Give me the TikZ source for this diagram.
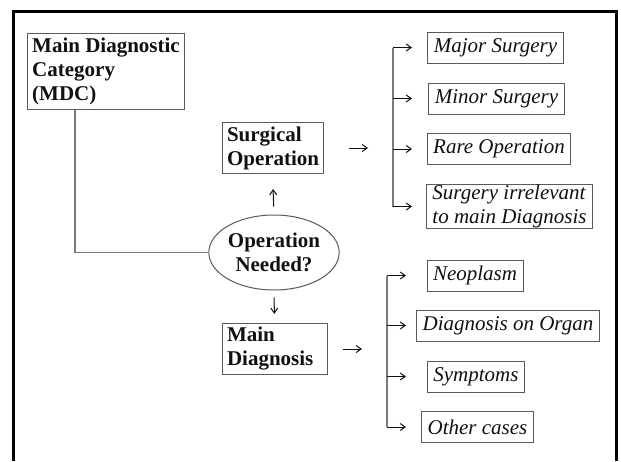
\documentclass[tikz,border=0pt]{standalone}
\usepackage{fontspec}
\setmainfont{Liberation Serif}
\usetikzlibrary{positioning,arrows.meta,shapes.geometric}
\definecolor{edge}{HTML}{5A5A5A}
\definecolor{wire}{HTML}{7A7A7A}
\definecolor{ink}{HTML}{111111}
\newcommand{\fs}{\fontsize{10.5}{12}\selectfont}
\tikzset{
  cat/.style ={draw=edge, line width=.5pt, fill=white, align=left, inner xsep=2.5pt, inner ysep=2pt, font=\fs\bfseries, text=ink},
  leaf/.style={draw=edge, line width=.5pt, fill=white, align=left, inner xsep=3pt, inner ysep=0pt, minimum height=15.5pt, font=\fs\itshape, text=ink},
  ask/.style ={draw=edge, ellipse, line width=.5pt, align=center, minimum width=64pt, minimum height=37.5pt, inner sep=0pt, font=\fs\bfseries, text=ink},
  frm/.style ={draw=black, line width=1.6pt},
  wr/.style  ={draw=wire, line width=.6pt},
  ar/.style  ={draw=ink, line width=.5pt, -{Straight Barb[length=2.5pt,width=3.5pt]}},
}
\begin{document}
\begin{tikzpicture}[x=0.5pt,y=-0.5pt]
    \useasboundingbox (0,0) rectangle (621,461);
    \fill[white] (0,0) rectangle (621,461);
    \draw[frm] (13.5,461) -- (13.5,11.5) -- (616.5,11.5) -- (616.5,461);

    \node[cat] (mdc) at (106,71.5) {Main Diagnostic\\ Category\\ (MDC)};
    \node[cat,text width=45.5pt] (surg) at (272.5,148) {Surgical\\ Operation};
    \node[ask] (opn) at (274,252.5) {Operation\\ Needed?};
    \node[cat,text width=47.5pt] (mdx) at (274.5,349) {Main\\ Diagnosis};

    \node[leaf] (maj) at (495.5,47.5) {Major Surgery};
    \node[leaf] (mnr) at (496.5,98.5) {Minor Surgery};
    \node[leaf] (rare) at (499,149) {Rare Operation};
    \node[leaf] (irr) at (509.5,206.5) {Surgery irrelevant\\ to main Diagnosis};
    \node[leaf] (neo) at (475,275.5) {Neoplasm};
    \node[leaf] (org) at (508,325.5) {Diagnosis on Organ};
    \node[leaf] (sym) at (476,376.5) {Symptoms};
    \node[leaf] (oth) at (477.5,427) {Other cases};

    \coordinate (elb) at (75,252.5);
    \coordinate (sbar) at (393,0);
    \coordinate (stip) at (412,0);
    \coordinate (dbar) at (387,0);
    \coordinate (dtip) at (406,0);

    \draw[wr] (mdc.south -| elb) -- (elb) -- (opn.west);
    \draw[ar,shorten <=4pt,shorten >=7.5pt] (opn.north) -- (surg.south);
    \draw[ar,shorten <=3.5pt,shorten >=4.5pt] (opn.south) -- (mdx.north);
    \draw[ar,shorten <=12.5pt,shorten >=12.5pt] (surg.east) -- (surg.east -| sbar);
    \draw[ar,shorten <=7.5pt,shorten >=12.5pt] (mdx.east) -- (mdx.east -| dbar);

    \draw[wr] (maj.west -| sbar) -- (irr.west -| sbar);
    \foreach \b in {maj,mnr,rare,irr}
      \draw[ar] (\b.west -| sbar) -- (\b.west -| stip);
    \draw[wr] (neo.west -| dbar) -- (oth.west -| dbar);
    \foreach \b in {neo,org,sym,oth}
      \draw[ar] (\b.west -| dbar) -- (\b.west -| dtip);
  \end{tikzpicture}
\end{document}
